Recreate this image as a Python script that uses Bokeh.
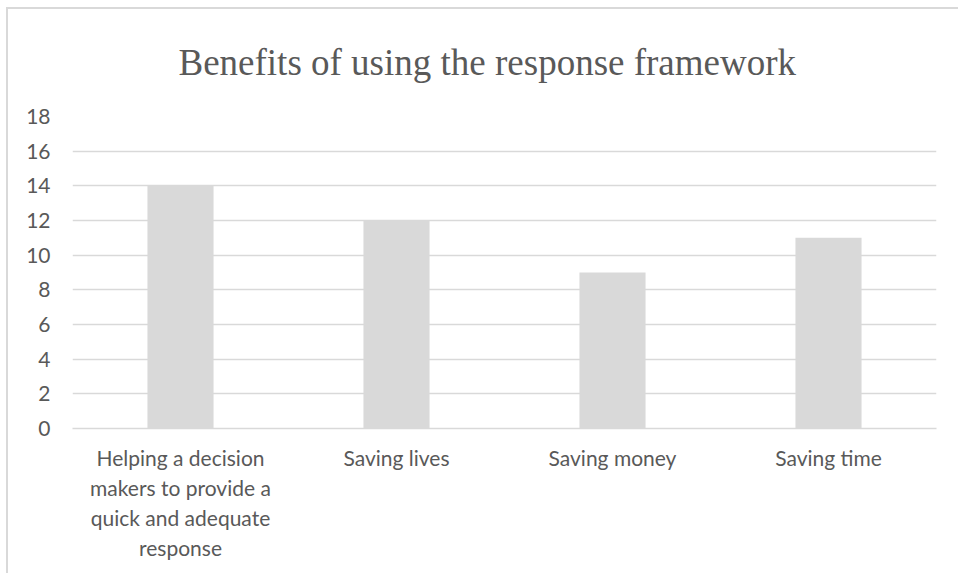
from bokeh.plotting import figure
from bokeh.models import Title, FixedTicker
from bokeh.embed import file_html
from bokeh.resources import INLINE

title_text = "Benefits of using the response framework"
categories = [
    "Helping a decision\nmakers to provide a\nquick and adequate\nresponse",
    "Saving lives",
    "Saving money",
    "Saving time",
]
values = [14, 12, 9, 11]
y_ticks = [0, 2, 4, 6, 8, 10, 12, 14, 16, 18]

TXT = "#595959"
GRID = "#d9d9d9"

p = figure(
    x_range=categories, y_range=(0, 18),
    width=952, height=566,
    output_backend="svg", toolbar_location=None,
    min_border_left=64, min_border_right=24,
    min_border_top=106, min_border_bottom=147,
)
p.title = Title(text=title_text, align="left", vertical_align="top",
                text_font="Liberation Serif", text_font_size="37px",
                text_color=TXT, text_font_style="normal",
                standoff=64, offset=106)

p.vbar(x=categories, top=values, width=0.306, color=GRID, line_color=None)

p.outline_line_color = None
p.background_fill_color = "white"
p.border_fill_color = "white"

p.xgrid.grid_line_color = None
p.ygrid.grid_line_color = GRID
p.ygrid.grid_line_width = 1.5
p.ygrid.level = "underlay"

p.yaxis.ticker = FixedTicker(ticks=y_ticks)
p.yaxis.axis_line_color = None
p.yaxis.major_tick_line_color = None
p.yaxis.minor_tick_line_color = None
p.yaxis.major_tick_out = 0
p.yaxis.major_label_standoff = 22
p.yaxis.major_label_text_font = "Lato"
p.yaxis.major_label_text_font_size = "21px"
p.yaxis.major_label_text_color = TXT

p.xaxis.axis_line_color = GRID
p.xaxis.axis_line_width = 1.5
p.xaxis.major_tick_line_color = None
p.xaxis.minor_tick_line_color = None
p.xaxis.major_tick_out = 0
p.xaxis.major_label_standoff = 16
p.xaxis.major_label_text_font = "Lato"
p.xaxis.major_label_text_font_size = "21px"
p.xaxis.major_label_text_color = TXT

# outer chart-area border (top and left visible in the reference)
p.margin = (7, 0, 0, 6)
p.styles = {"border-top": "2px solid #d9d9d9", "border-left": "2px solid #d9d9d9"}

open("out.html", "w").write(file_html(p, INLINE))
